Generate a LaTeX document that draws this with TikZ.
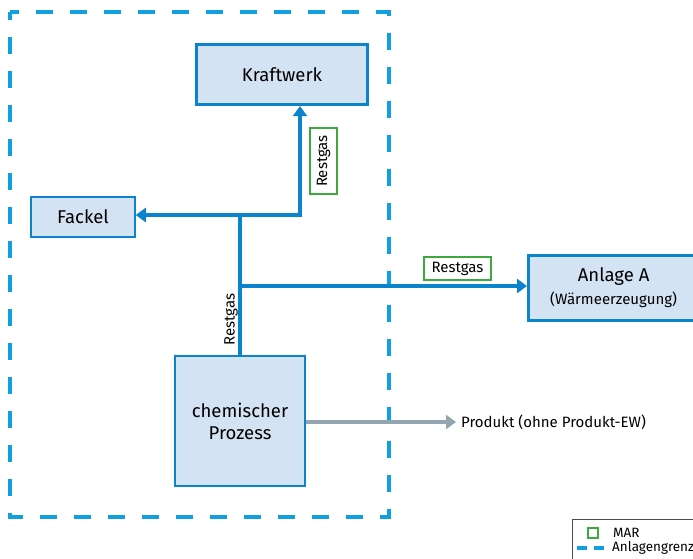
\documentclass[tikz,border=0pt]{standalone}
\usepackage{fontspec}
\setmainfont{Fira Sans}
\usetikzlibrary{arrows.meta}
\definecolor{boxblue}{HTML}{0A84CC}
\definecolor{boxfill}{HTML}{D4E3F3}
\definecolor{limitblue}{HTML}{11A0DF}
\definecolor{margreen}{HTML}{3DAA3F}
\definecolor{prodgrey}{HTML}{92A5B1}
\tikzset{
  unit/.style={draw=boxblue, fill=boxfill, line width=1.5pt, align=center, inner sep=0pt, font=\fontsize{18.5}{22}\selectfont},
  thickunit/.style={unit, line width=3.2pt},
  flow/.style={draw=boxblue, line width=3.1pt},
  tip/.style={-{Triangle[length=10pt,width=14pt]}},
  flowarrow/.style={flow, tip},
  marlabel/.style={draw=margreen, fill=white, line width=1.3pt, inner sep=3pt, font=\fontsize{15}{18}\selectfont},
  plainlabel/.style={inner sep=0pt, font=\fontsize{15}{18}\selectfont},
}
\begin{document}
\begin{tikzpicture}[x=1pt, y=-1pt]
\useasboundingbox (0,0) rectangle (693,558);
% system boundary
\draw[limitblue, line width=3.1pt, dash pattern=on 17pt off 17pt, dash phase=9pt] (10,12) rectangle (389,517);

% units
\node[thickunit, minimum width=171pt, minimum height=60pt] (kw) at (282,74.5) {Kraftwerk};
\node[unit, minimum width=104pt, minimum height=40pt] (fackel) at (83,217) {Fackel};
\node[thickunit, minimum width=170pt, minimum height=65pt, anchor=north west] (anlage) at (527,254)
  {Anlage A\\[1pt]{\fontsize{15}{18}\selectfont(Wärmeerzeugung)}};
\node[unit, minimum width=130pt, minimum height=130pt] (chem) at (240,421) {chemischer\\Prozess};

% junction points of the residual gas line
\coordinate (j1) at (240,215);
\coordinate (j2) at (240,286);
\coordinate (jk) at (300,215);

% residual gas distribution
\draw[flow] (chem.north) -- (j1);
\draw[flowarrow] (j1) -- (j1 -| fackel.east);
\draw[flowarrow] (j1) -- (jk) -- (kw.south -| jk);
\draw[flowarrow] (j2) -- (anlage.west |- j2);

% product stream
\coordinate (prodend) at (456,422);
\draw[prodgrey, line width=3.1pt, tip] (chem.east |- prodend) -- (prodend);
\node[plainlabel, anchor=west] (prod) at (461,422) {Produkt (ohne Produkt-EW)};

% labels
\node[plainlabel, rotate=90] (rg1) at (231,319.5) {Restgas};
\node[marlabel, rotate=90, minimum width=66pt, minimum height=27pt] (rg2) at (323.5,161) {Restgas};
\node[marlabel, minimum width=67pt, minimum height=23pt] (rg3) at (457.5,268.5) {Restgas};

% legend
\draw[black!70, line width=0.6pt] (572,519) -- (700,519);
\draw[black!70, line width=0.6pt] (572,519) -- (572,560);
\node[draw=margreen, line width=1.8pt, minimum size=10pt, inner sep=0pt] (legmar) at (593,533) {};
\node[plainlabel, anchor=west, font=\fontsize{13.5}{16}\selectfont] (legmartxt) at (613,533) {MAR};
\coordinate (legA) at (577,548);
\coordinate (legB) at (606,548);
\draw[limitblue, line width=3.1pt, dash pattern=on 10pt off 7pt] (legA) -- (legB);
\node[plainlabel, anchor=west, font=\fontsize{13.5}{16}\selectfont] (leggrenze) at (612,548) {Anlagengrenze};
\end{tikzpicture}
\end{document}
